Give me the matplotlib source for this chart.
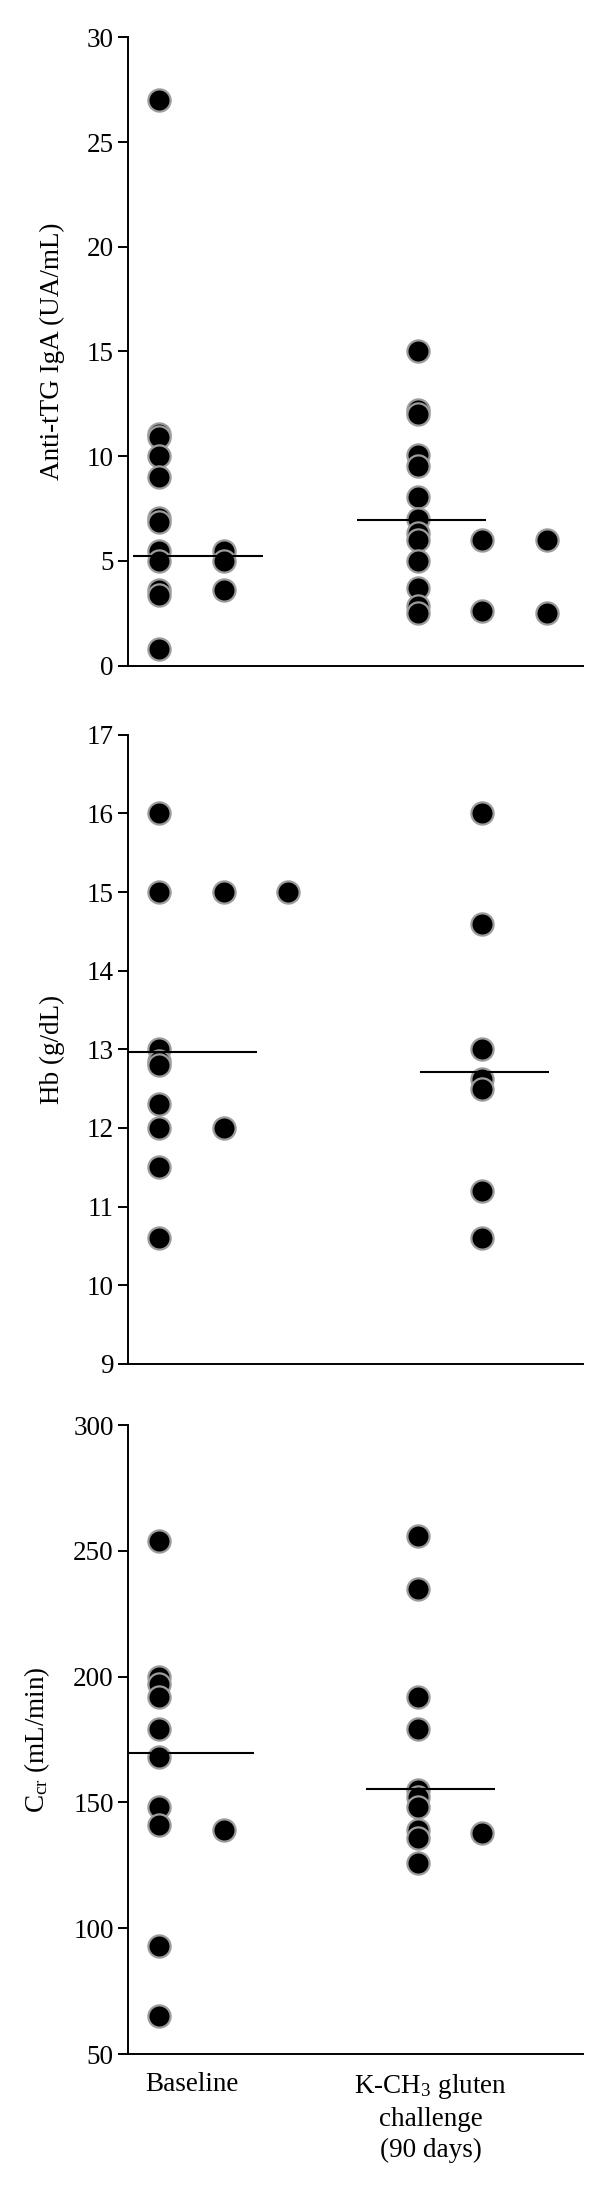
import matplotlib
matplotlib.use("Agg")
import matplotlib.pyplot as plt

plt.rcParams['font.family'] = ['Liberation Serif', 'DejaVu Serif']
plt.rcParams['mathtext.fontset'] = 'custom'
plt.rcParams['mathtext.rm'] = 'Liberation Serif'
plt.rcParams['mathtext.it'] = 'Liberation Serif:italic'

# ---- data ----
# column positions: baseline columns 1,2,3 ; challenge columns 5,6,7
tg_base_c1 = [27.0, 11.05, 10.9, 10.0, 9.0, 7.05, 6.85, 5.45, 5.0, 3.6, 3.35, 0.8]
tg_base_c2 = [5.45, 5.0, 3.6]
tg_chal_c1 = [15.0, 12.2, 12.0, 10.05, 9.55, 8.05, 7.0, 6.35, 6.0, 5.0, 3.7, 2.85, 2.5]
tg_chal_c2 = [6.0, 2.6]
tg_chal_c3 = [6.0, 2.5]
tg_medians = [5.22, 6.97]
tg_spans = [(0.6, 2.61), (4.06, 6.05)]

hb_base_c1 = [16.0, 15.0, 13.0, 12.85, 12.8, 12.3, 12.0, 11.5, 10.6]
hb_base_c2 = [15.0, 12.0]
hb_base_c3 = [15.0]
hb_chal_c2 = [16.0, 14.6, 13.0, 12.62, 12.5, 11.2, 10.6]
hb_medians = [12.96, 12.71]
hb_spans = [(0.52, 2.52), (5.04, 7.04)]

cc_base_c1 = [254, 200, 197, 192, 179, 168, 148, 141, 93, 65]
cc_base_c2 = [139]
cc_chal_c1 = [256, 235, 192, 179, 155, 152, 148, 139, 136, 126]
cc_chal_c2 = [138]
cc_medians = [169.5, 155.5]
cc_spans = [(0.52, 2.46), (4.2, 6.2)]

group_labels = ['Baseline', 'K-CH$_3$ gluten\nchallenge\n(90 days)']
group_label_pos = [1.5, 5.2]

panels = [
    dict(groups=[(1, tg_base_c1), (2, tg_base_c2), (5, tg_chal_c1), (6, tg_chal_c2), (7, tg_chal_c3)],
         medians=tg_medians, spans=tg_spans, ylim=(0, 30), yticks=[0, 5, 10, 15, 20, 25, 30],
         ylabel='Anti-tTG IgA (UA/mL)', labx=-0.167),
    dict(groups=[(1, hb_base_c1), (2, hb_base_c2), (3, hb_base_c3), (6, hb_chal_c2)],
         medians=hb_medians, spans=hb_spans, ylim=(9, 17), yticks=list(range(9, 18)),
         ylabel='Hb (g/dL)', labx=-0.167),
    dict(groups=[(1, cc_base_c1), (2, cc_base_c2), (5, cc_chal_c1), (6, cc_chal_c2)],
         medians=cc_medians, spans=cc_spans, ylim=(50, 300), yticks=[50, 100, 150, 200, 250, 300],
         ylabel='C$_{\\mathrm{cr}}$ (mL/min)', labx=-0.2),
]

W, H = 600, 2189
fig = plt.figure(figsize=(W / 100, H / 100), dpi=100)
# (top_px, bottom_px) of each axes
boxes = [(37.3, 665.6), (734.8, 1363.8), (1425.0, 2054.0)]
left_px, right_px = 128.0, 583.0
fs = 19.5

for i, (p, (t, b)) in enumerate(zip(panels, boxes)):
    ax = fig.add_axes([left_px / W, 1 - b / H, (right_px - left_px) / W, (b - t) / H])
    for xpos, vals in p['groups']:
        for v in vals:
            ax.plot([xpos], [v], 'o', ms=16, mfc='black', mec='#9c9c9c', mew=1.6,
                    clip_on=False, zorder=3)
    for m, (x0, x1) in zip(p['medians'], p['spans']):
        ax.hlines(m, x0, x1, colors='black', lw=1.5, zorder=4)
    ax.set_xlim(0.5155, 7.559)
    ax.set_ylim(*p['ylim'])
    ax.set_yticks(p['yticks'])
    ax.tick_params(axis='y', direction='out', length=7.2, width=1.4, pad=3, labelsize=fs)
    ax.spines['top'].set_visible(False)
    ax.spines['right'].set_visible(False)
    ax.spines['left'].set_linewidth(1.4)
    ax.spines['bottom'].set_linewidth(1.4)
    ax.set_ylabel(p['ylabel'], fontsize=fs, va='center')
    ax.yaxis.set_label_coords(p['labx'], 0.5)
    if i == 2:
        ax.set_xticks(group_label_pos)
        ax.set_xticklabels(group_labels, fontsize=fs, linespacing=1.3, va='top')
        ax.tick_params(axis='x', length=0, pad=13)
    else:
        ax.set_xticks([])

fig.savefig('out.png', dpi=100)
